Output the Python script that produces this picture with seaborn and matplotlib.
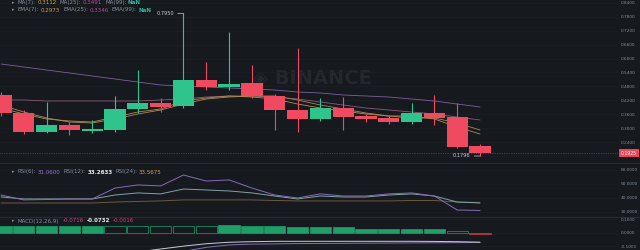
import numpy as np
import pandas as pd
import matplotlib
matplotlib.use("Agg")
import matplotlib.pyplot as plt
import seaborn as sns
from matplotlib.ticker import MultipleLocator, FuncFormatter

# ---------------- data ----------------
opens  = [0.4429, 0.3652, 0.2832, 0.3134, 0.2875, 0.2918, 0.3825, 0.4083, 0.3954, 0.5076, 0.4774,
          0.4947, 0.4386, 0.3781, 0.3393, 0.3868, 0.3522, 0.3436, 0.3263, 0.3652, 0.3479, 0.2227]
highs  = [0.4558, 0.3781, 0.4127, 0.3263, 0.3350, 0.4386, 0.5508, 0.4299, 0.7950, 0.5853, 0.7148,
          0.5724, 0.4472, 0.6458, 0.4299, 0.4342, 0.3609, 0.3522, 0.4083, 0.4429, 0.4083, 0.2314]
lows   = [0.3522, 0.2745, 0.2789, 0.2702, 0.2789, 0.2832, 0.3652, 0.3695, 0.3868, 0.4645, 0.4645,
          0.4299, 0.2918, 0.2832, 0.3307, 0.2918, 0.3263, 0.3177, 0.3177, 0.3134, 0.2141, 0.1796]
closes = [0.3652, 0.2832, 0.3134, 0.2918, 0.2961, 0.3825, 0.4083, 0.3911, 0.5076, 0.4774, 0.4904,
          0.4386, 0.3781, 0.3393, 0.3868, 0.3479, 0.3393, 0.3263, 0.3652, 0.3436, 0.2184, 0.1925]

line_purple = [0.5767, 0.5637, 0.5508, 0.5378, 0.5249, 0.5119, 0.4990, 0.4860, 0.4817, 0.4774, 0.4731,
               0.4688, 0.4645, 0.4558, 0.4515, 0.4429, 0.4386, 0.4342, 0.4256, 0.4170, 0.4040, 0.3911]
line_pink   = [0.4213, 0.4213, 0.4170, 0.4170, 0.4170, 0.4170, 0.4170, 0.4213, 0.4256, 0.4342, 0.4386,
               0.4386, 0.4342, 0.4256, 0.4127, 0.3997, 0.3868, 0.3781, 0.3695, 0.3609, 0.3479, 0.3350]
line_ma7    = [0.3997, 0.3695, 0.3436, 0.3263, 0.3220, 0.3393, 0.3609, 0.3781, 0.4040, 0.4256, 0.4342,
               0.4386, 0.4386, 0.4213, 0.3997, 0.3825, 0.3652, 0.3522, 0.3436, 0.3436, 0.3220, 0.2918]
line_ema7   = [0.3868, 0.3609, 0.3393, 0.3307, 0.3263, 0.3479, 0.3695, 0.3825, 0.4170, 0.4299, 0.4386,
               0.4342, 0.4256, 0.4040, 0.3868, 0.3738, 0.3609, 0.3522, 0.3522, 0.3393, 0.3048, 0.2745]

rsi6  = [42.1, 38.6, 38.9, 39.3, 39.3, 47.1, 49.3, 48.6, 56.4, 52.1, 52.9,
         47.1, 42.1, 40.0, 42.9, 41.4, 41.4, 42.9, 43.6, 41.4, 31.4, 31.06]
rsi12 = [40.7, 39.3, 39.3, 39.3, 39.3, 42.1, 43.6, 42.9, 46.4, 45.7, 45.0,
         43.6, 41.4, 39.3, 41.4, 40.7, 40.7, 42.1, 42.9, 41.4, 37.1, 36.4]
rsi24 = [36.4, 36.4, 36.4, 36.4, 36.4, 37.1, 37.5, 37.9, 38.6, 38.6, 38.6,
         38.6, 38.2, 37.9, 37.9, 37.9, 37.9, 37.9, 38.2, 38.2, 37.1, 36.8]

macd_dif  = [-0.200, -0.195, -0.190, -0.180, -0.170, -0.160, -0.144, -0.122, -0.101, -0.083, -0.072,
             -0.068, -0.065, -0.065, -0.065, -0.065, -0.065, -0.065, -0.065, -0.066, -0.068, -0.0716]
macd_dea  = [-0.260, -0.250, -0.240, -0.230, -0.220, -0.210, -0.195, -0.175, -0.140, -0.110, -0.092,
             -0.086, -0.084, -0.082, -0.081, -0.080, -0.079, -0.078, -0.077, -0.076, -0.075, -0.0732]
macd_hist = [0.050, 0.050, 0.050, 0.050, 0.050, 0.045, 0.045, 0.045, 0.045, 0.045, 0.055,
             0.052, 0.045, 0.043, 0.043, 0.042, 0.028, 0.027, 0.026, 0.025, 0.010, -0.012]
hist_filled = [True, True, True, True, True, False, False, False, False, False, True,
               True, True, True, True, True, True, True, True, True, False, True]

idx = np.arange(len(opens))
df = pd.DataFrame({"i": idx, "open": opens, "high": highs, "low": lows, "close": closes})

# ---------------- style ----------------
bg = "#161a1f"
grey = "#848e9c"
green = "#2ec48b"
red = "#ef4a5f"
sns.set_theme(style="dark", rc={"axes.facecolor": bg, "figure.facecolor": bg,
                                "axes.edgecolor": bg, "grid.color": "#1c2027"})
plt.rcParams["font.family"] = ["DejaVu Sans"]

fig = plt.figure(figsize=(6.4, 2.5), dpi=100)
W = 0.966
ax = fig.add_axes([0, 1 - 162 / 250, W, 162 / 250])
ax_r = fig.add_axes([0, 1 - 216 / 250, W, 53 / 250])
ax_m = fig.add_axes([0, 0, W, 33 / 250])
xlim = (-0.044, 27.06)
last_close = closes[-1]

for a in (ax, ax_r, ax_m):
    a.set_facecolor(bg)
    a.set_xlim(*xlim)
    a.set_xticks([])
    a.yaxis.tick_right()
    a.tick_params(axis="y", labelsize=3.1, colors=grey, length=0, pad=2)
    a.grid(True, axis="y", color="#1c2027", lw=0.5)
    a.grid(False, axis="x")
    for s in a.spines.values():
        s.set_visible(False)

# separators
fig.add_artist(plt.Line2D([0, 1], [1 - 162.5 / 250] * 2, color="#2b3139", lw=0.6))
fig.add_artist(plt.Line2D([0, 1], [1 - 216.5 / 250] * 2, color="#2b3139", lw=0.6))

# ---------------- main candles ----------------
ax.set_ylim(0.1537, 0.8529)
ax.yaxis.set_major_locator(MultipleLocator(0.06))
ax.yaxis.set_major_formatter(FuncFormatter(lambda v, p: "" if abs(v - last_close) < 0.03 else f"{v:.4f}"))

ax.text(0.505, 0.52, "◈ BINANCE", transform=ax.transAxes, ha="center", va="center",
        fontsize=14, fontweight="bold", color="#23272e", zorder=0)

for col, c in [(line_purple, "#7d5f9e"), (line_pink, "#8a5a78"), (line_ma7, "#a88a55"), (line_ema7, "#b98a4a")]:
    sns.lineplot(x=idx, y=col, ax=ax, color=c, linewidth=0.6, legend=False, zorder=2)

up = df["close"] >= df["open"]
colors = np.where(up, green, red)
ax.vlines(df["i"], df["low"], df["high"], colors=colors, lw=0.8, zorder=3)
ax.bar(df["i"], (df["close"] - df["open"]).abs(), bottom=df[["open", "close"]].min(axis=1),
       width=0.93, color=colors, zorder=4, linewidth=0)

ax.axhline(last_close, color="#9aa0a8", lw=0.5, ls=(0, (1, 1.5)), alpha=0.6, zorder=1)
ax.annotate(f"{last_close:.4f}", xy=(1.0, last_close), xycoords=("axes fraction", "data"),
            xytext=(2, 0), textcoords="offset points", ha="left", va="center",
            fontsize=3.3, color="white",
            bbox=dict(boxstyle="square,pad=0.4", fc="#e8465d", ec="none"), annotation_clip=False)

hi_i = int(np.argmax(highs))
lo_i = int(np.argmin(lows))
for i_, v in [(hi_i, highs[hi_i]), (lo_i, lows[lo_i])]:
    ax.annotate(f"{v:.4f}", xy=(i_, v), xytext=(-7, 0), textcoords="offset points",
                ha="right", va="center", fontsize=3.6, color="#c8ccd2",
                arrowprops=dict(arrowstyle="-", color="#c8ccd2", lw=0.5, shrinkA=0.5, shrinkB=0))

# ---------------- RSI ----------------
ax_r.set_ylim(27.1, 65)
ax_r.yaxis.set_major_locator(MultipleLocator(10))
ax_r.yaxis.set_major_formatter(FuncFormatter(lambda v, p: f"{v:.4f}"))
for col, c in [(rsi24, "#6e5a3c"), (rsi12, "#7fa3a6"), (rsi6, "#8a6bb5")]:
    sns.lineplot(x=idx, y=col, ax=ax_r, color=c, linewidth=0.7, legend=False)

# ---------------- MACD ----------------
ax_m.set_ylim(-0.1296, 0.1152)
ax_m.yaxis.set_major_locator(MultipleLocator(0.1))
ax_m.yaxis.set_major_formatter(FuncFormatter(lambda v, p: f"{v:.4f}"))
hist = np.array(macd_hist)
filled = np.array(hist_filled)
hcol = np.where(hist >= 0, "#1f9e6a", "#c0394e")
face = [c if f else bg for c, f in zip(hcol, filled)]
ax_m.bar(idx, hist, width=0.93, color=face, edgecolor=hcol, linewidth=0.5)
sns.lineplot(x=idx, y=macd_dea, ax=ax_m, color="#8a6bb5", linewidth=0.7, legend=False)
sns.lineplot(x=idx, y=macd_dif, ax=ax_m, color="#c8cdd3", linewidth=0.7, legend=False)
for a in (ax, ax_r, ax_m):
    a.set_xlim(*xlim)
    a.set_xlabel("")
    a.set_ylabel("")

# ---------------- headers ----------------
fig.canvas.draw()
renderer = fig.canvas.get_renderer()


def header(a, y_frac, segments, fs=4.0):
    a.text(12 / (W * 640), y_frac, "▸", transform=a.transAxes, color=grey, fontsize=fs - 0.5,
           va="center", ha="left")
    x = 18 / (W * 640)
    for s, c, wgt, gap in segments:
        t = a.text(x, y_frac, s, transform=a.transAxes, color=c, fontsize=fs, fontweight=wgt,
                   va="center", ha="left")
        bb = t.get_window_extent(renderer)
        x += (bb.width + gap) / a.bbox.width


yel, pnk, pur, teal = "#c9a33f", "#b84a8e", "#9a6fd0", "#2fb5a0"
header(ax, 1 - 2.5 / 162, [("MA(7):", grey, "normal", 1.5), ("0.3112", yel, "normal", 3),
                           ("MA(25):", grey, "normal", 1.5), ("0.3491", pnk, "normal", 3),
                           ("MA(99):", grey, "normal", 1.5), ("NaN", teal, "bold", 0)])
header(ax, 1 - 10 / 162, [("EMA(7):", grey, "normal", 1.5), ("0.2973", yel, "normal", 3),
                          ("EMA(25):", grey, "normal", 1.5), ("0.3346", pnk, "normal", 3),
                          ("EMA(99):", grey, "normal", 1.5), ("NaN", teal, "bold", 0)])
header(ax_r, (216 - 172) / 53, [("RSI(6):", grey, "normal", 1.5), (f"{rsi6[-1]:.4f}", pur, "normal", 3),
                                ("RSI(12):", grey, "normal", 1.5), ("33.2633", "#e6ebeb", "bold", 3),
                                ("RSI(24):", grey, "normal", 1.5), ("33.5675", "#d6a04a", "normal", 0)])
header(ax_m, (250 - 221) / 33, [("MACD(12,26,9)", grey, "normal", 3), (f"{macd_dif[-1]:.4f}", "#c0457d", "normal", 3),
                                (f"{macd_dea[-1]:.4f}", "#e6ebeb", "bold", 3), ("-0.0016", "#c0457d", "normal", 0)])

fig.savefig("out.png", dpi=100, facecolor=bg)
